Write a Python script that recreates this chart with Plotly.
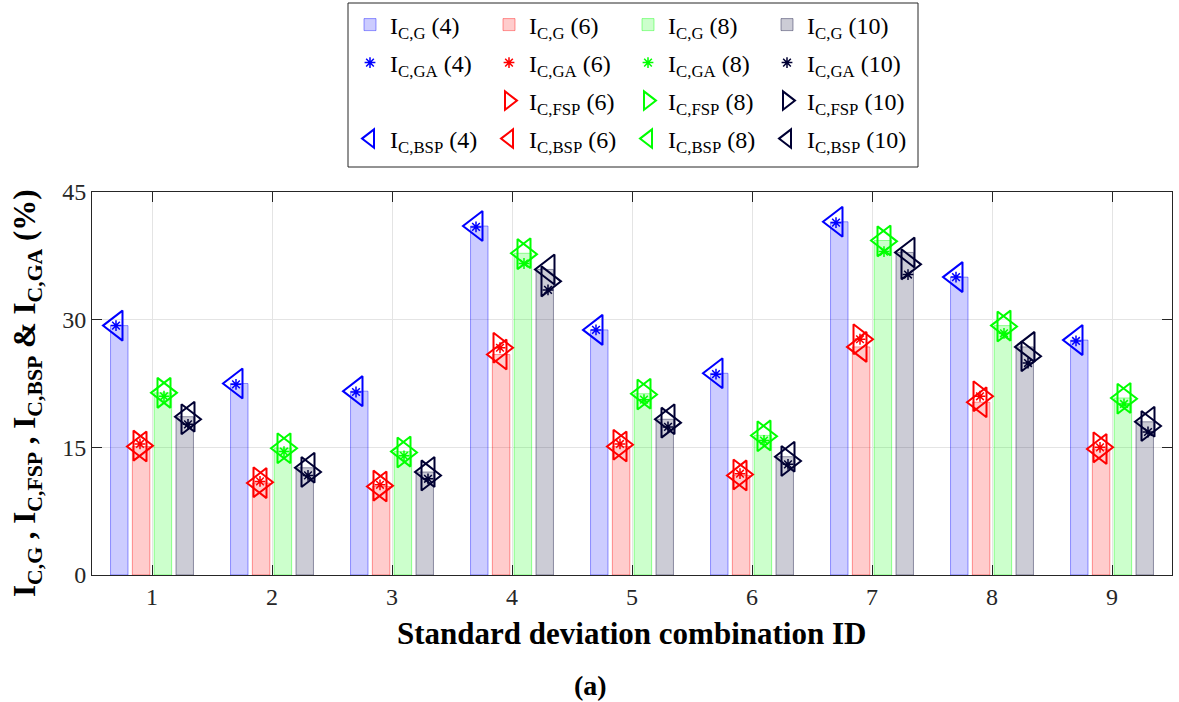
import plotly.graph_objects as go

# ---------------- data ----------------
ids = [1, 2, 3, 4, 5, 6, 7, 8, 9]

# I_C,G bars
g4 = [29.3, 22.5, 21.6, 41.0, 28.8, 23.7, 41.5, 35.0, 27.6]
g6 = [15.1, 10.8, 10.4, 25.9, 15.1, 11.7, 26.8, 20.3, 14.8]
g8 = [21.4, 14.9, 14.5, 37.8, 21.3, 16.4, 39.3, 29.3, 20.8]
g10 = [18.6, 12.6, 12.1, 35.9, 18.3, 13.9, 37.9, 26.8, 18.0]

# I_C,GA (asterisks)
ga4 = [29.3, 22.4, 21.5, 40.9, 28.8, 23.6, 41.4, 35.0, 27.5]
ga6 = [15.4, 11.0, 10.6, 26.7, 15.4, 11.9, 27.7, 21.0, 15.0]
ga8 = [21.0, 14.5, 14.0, 36.6, 20.6, 15.8, 38.0, 28.4, 20.1]
ga10 = [17.7, 11.7, 11.3, 33.5, 17.4, 13.0, 35.3, 24.9, 16.8]

# I_C,FSP (right triangles)
fsp6 = [15.2, 10.9, 10.5, 26.7, 15.3, 11.8, 27.7, 21.0, 15.0]
fsp8 = [21.4, 14.9, 14.4, 37.7, 21.2, 16.3, 39.2, 29.2, 20.7]
fsp10 = [18.3, 12.1, 11.7, 34.5, 17.9, 13.4, 36.5, 25.7, 17.5]

# I_C,BSP (left triangles)
bsp4 = [29.3, 22.5, 21.6, 41.0, 28.8, 23.7, 41.5, 35.0, 27.6]
bsp6 = [15.1, 10.8, 10.4, 25.9, 15.1, 11.7, 26.8, 20.3, 14.8]
bsp8 = [21.4, 14.9, 14.5, 37.8, 21.3, 16.4, 39.3, 29.3, 20.8]
bsp10 = [18.6, 12.6, 12.1, 35.9, 18.3, 13.9, 37.9, 26.8, 18.0]

y_ticks = [0, 15, 30, 45]
cases = ["4", "6", "8", "10"]

# ---------------- styling ----------------
FONT = "Liberation Serif"
rgb = {"4": (0, 0, 255), "6": (255, 0, 0), "8": (0, 255, 0), "10": (0, 0, 51)}
offs = {"4": -0.3, "6": -0.1, "8": 0.1, "10": 0.3}


def rgba(k, a):
    r, g, b = rgb[k]
    return f"rgba({r},{g},{b},{a})"


def solid(k):
    r, g, b = rgb[k]
    return f"rgb({r},{g},{b})"


fig = go.Figure()

G = {"4": g4, "6": g6, "8": g8, "10": g10}
GA = {"4": ga4, "6": ga6, "8": ga8, "10": ga10}
FSP = {"6": fsp6, "8": fsp8, "10": fsp10}
BSP = {"4": bsp4, "6": bsp6, "8": bsp8, "10": bsp10}

# bars (row 1 of legend)
for k in cases:
    fig.add_trace(go.Bar(
        x=ids, y=G[k], name=f"I<sub>C,G</sub> ({k})",
        marker=dict(color=rgba(k, 0.2), line=dict(color=rgba(k, 0.4), width=1)),
        legend="legend",
    ))

# GA asterisks (row 2)
for k in cases:
    fig.add_trace(go.Scatter(
        x=[i + offs[k] for i in ids], y=GA[k], mode="markers",
        name=f"I<sub>C,GA</sub> ({k})",
        marker=dict(symbol="asterisk-open", size=9, color=solid(k),
                    line=dict(color=solid(k), width=1.5)),
        legend="legend2",
    ))

# FSP right triangles (row 3) with empty first slot
fig.add_trace(go.Scatter(
    x=[None], y=[None], mode="markers", name=" ",
    marker=dict(size=1, color="rgba(0,0,0,0)"), legend="legend3",
))
for k in ["6", "8", "10"]:
    fig.add_trace(go.Scatter(
        x=[i + offs[k] for i in ids], y=FSP[k], mode="markers",
        name=f"I<sub>C,FSP</sub> ({k})",
        marker=dict(symbol="triangle-right-open", size=26, color=solid(k),
                    line=dict(color=solid(k), width=2)),
        legend="legend3",
    ))

# BSP left triangles (row 4)
for k in cases:
    fig.add_trace(go.Scatter(
        x=[i + offs[k] for i in ids], y=BSP[k], mode="markers",
        name=f"I<sub>C,BSP</sub> ({k})",
        marker=dict(symbol="triangle-left-open", size=26, color=solid(k),
                    line=dict(color=solid(k), width=2)),
        legend="legend4",
    ))

# ---------------- layout ----------------
L, R, T, B = 92, 7, 192, 127
W, H = 1179, 702
pw, ph = W - L - R, H - T - B


def px_x(px):
    return (px - L) / pw


def px_y(py):
    return (H - B - py) / ph


leg_common = dict(
    orientation="h", xanchor="left", yanchor="middle",
    bgcolor="rgba(0,0,0,0)", borderwidth=0,
    entrywidth=94, entrywidthmode="pixels",
    font=dict(family=FONT, size=24, color="black"),
    itemclick=False, itemdoubleclick=False,
)
rows_py = [25, 63, 101, 139]
legends = {}
for n, py in enumerate(rows_py):
    legends["legend" if n == 0 else f"legend{n+1}"] = dict(
        leg_common, x=px_x(350), y=px_y(py))

axis_common = dict(
    showline=True, linecolor="#262626", linewidth=1, mirror="ticks",
    ticks="inside", ticklen=10, tickcolor="#262626", tickwidth=1,
    showgrid=True, gridcolor="#e4e4e4", gridwidth=1, zeroline=False,
    tickfont=dict(family=FONT, size=24, color="#262626"),
)

fig.update_layout(
    width=W, height=H,
    margin=dict(l=L, r=R, t=T, b=B, autoexpand=False),
    paper_bgcolor="white", plot_bgcolor="white",
    barmode="group", bargap=0.2727, bargroupgap=0.2,
    font=dict(family=FONT, color="black"),
    xaxis=dict(axis_common, range=[0.5, 9.5], tickvals=ids),
    yaxis=dict(axis_common, range=[0, 45], tickvals=y_ticks),
    shapes=[dict(type="rect", xref="paper", yref="paper",
                 x0=px_x(348), x1=px_x(918), y0=px_y(167), y1=px_y(3),
                 line=dict(color="#262626", width=1), fillcolor="rgba(0,0,0,0)")],
    annotations=[
        dict(text="<b>Standard deviation combination ID</b>", xref="paper", yref="paper",
             x=px_x(631), y=px_y(633), xanchor="center", yanchor="middle", showarrow=False,
             font=dict(family=FONT, size=31, color="black")),
        dict(text="<b>(a)</b>", xref="paper", yref="paper",
             x=px_x(590), y=px_y(685), xanchor="center", yanchor="middle", showarrow=False,
             font=dict(family=FONT, size=28, color="black")),
        dict(text="<b>I<sub>C,G</sub> , I<sub>C,FSP</sub> , I<sub>C,BSP</sub> & I<sub>C,GA</sub> (%)</b>",
             xref="paper", yref="paper", x=px_x(27), y=px_y(393), textangle=-90,
             xanchor="center", yanchor="middle", showarrow=False,
             font=dict(family=FONT, size=31, color="black")),
    ],
    **legends,
)

fig.write_html("out.html", config={"displayModeBar": False},
               post_script="document.body.style.margin='0px';document.body.style.overflow='hidden';")
